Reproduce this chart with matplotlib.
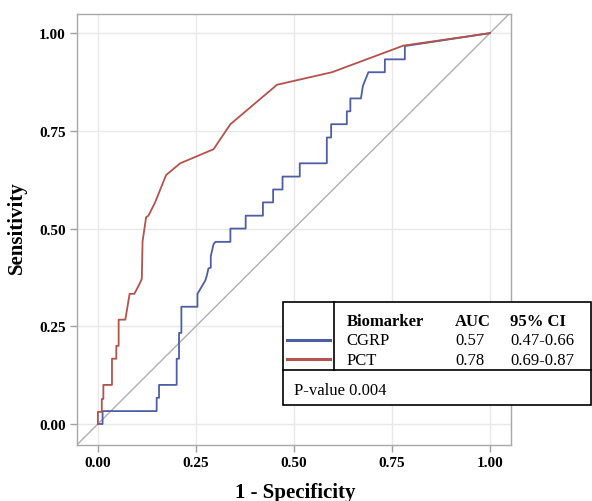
import matplotlib
matplotlib.use("Agg")
import matplotlib.pyplot as plt
from matplotlib.patches import Rectangle
from matplotlib.lines import Line2D

plt.rcParams['font.family'] = ['Liberation Serif', 'DejaVu Serif']

# ROC curve vertices (1 - specificity, sensitivity)
cgrp_fpr = [0.0, 0.012, 0.012, 0.150, 0.150, 0.156, 0.156, 0.201, 0.201, 0.207, 0.207, 0.213, 0.213,
            0.254, 0.254, 0.274, 0.278, 0.282, 0.288, 0.288, 0.295, 0.300, 0.338, 0.338, 0.377, 0.377,
            0.421, 0.421, 0.447, 0.447, 0.471, 0.471, 0.515, 0.515, 0.584, 0.584, 0.595, 0.595,
            0.635, 0.635, 0.644, 0.644, 0.671, 0.676, 0.690, 0.732, 0.732, 0.783, 0.783, 1.0]
cgrp_tpr = [0.0, 0.0, 0.033, 0.033, 0.067, 0.067, 0.100, 0.100, 0.167, 0.167, 0.233, 0.233, 0.300,
            0.300, 0.333, 0.367, 0.380, 0.398, 0.400, 0.429, 0.460, 0.466, 0.466, 0.500, 0.500, 0.533,
            0.533, 0.567, 0.567, 0.600, 0.600, 0.633, 0.633, 0.667, 0.667, 0.733, 0.733, 0.767,
            0.767, 0.800, 0.800, 0.833, 0.833, 0.865, 0.900, 0.900, 0.933, 0.933, 0.967, 1.0]

pct_fpr = [0.0, 0.0, 0.010, 0.010, 0.014, 0.014, 0.036, 0.036, 0.047, 0.047, 0.053, 0.053, 0.070,
           0.081, 0.093, 0.108, 0.112, 0.114, 0.123, 0.129, 0.146, 0.174, 0.210, 0.295, 0.338,
           0.457, 0.597, 0.779, 1.0]
pct_tpr = [0.0, 0.031, 0.031, 0.064, 0.064, 0.100, 0.100, 0.167, 0.167, 0.200, 0.200, 0.267, 0.267,
           0.333, 0.333, 0.362, 0.371, 0.467, 0.529, 0.533, 0.567, 0.637, 0.667, 0.703, 0.767,
           0.868, 0.900, 0.968, 1.0]

ticks = [0.0, 0.25, 0.5, 0.75, 1.0]
tick_labels = ["0.00", "0.25", "0.50", "0.75", "1.00"]

legend_header = ["Biomarker", "AUC", "95% CI"]
legend_names = ["CGRP", "PCT"]
legend_auc = ["0.57", "0.78"]
legend_ci = ["0.47-0.66", "0.69-0.87"]
p_text = "P-value 0.004"

blue = "#4e5ea6"
red = "#b5524b"

W, H = 592, 502
fig = plt.figure(figsize=(W / 100, H / 100), dpi=100)
ax = fig.add_axes([76.7 / W, 1 - 445.7 / H, (510.7 - 76.7) / W, (445.7 - 15) / H])

lim = (-0.054, 1.053)
ax.set_xlim(lim)
ax.set_ylim((-0.053, 1.049))
ax.plot([-0.1, 1.1], [-0.1, 1.1], color="#b0b0b0", lw=1.0, zorder=2)
ax.plot(cgrp_fpr, cgrp_tpr, color=blue, lw=1.3, zorder=3)
ax.plot(pct_fpr, pct_tpr, color=red, lw=1.3, zorder=4)

ax.set_xticks(ticks)
ax.set_yticks(ticks)
ax.set_xticklabels(tick_labels, fontweight="bold", fontsize=11)
ax.set_yticklabels(tick_labels, fontweight="bold", fontsize=11)
ax.grid(True, color="#e8e8e8", lw=1.0)
ax.set_axisbelow(True)
ax.tick_params(axis="both", length=5, width=1, color="#a0a0a0", pad=3)
for s in ax.spines.values():
    s.set_color("#a8a8a8")
    s.set_linewidth(1.0)

fig.text(295 / W, 1 - 493 / H, "1 - Specificity", ha="center", va="center",
         fontsize=15, fontweight="bold")
fig.text(17 / W, 1 - 228 / H, "Sensitivity", ha="center", va="center",
         rotation=90, fontsize=15, fontweight="bold")

def fx(p):
    return p / W

def fy(p):
    return 1 - p / H

# legend table
fig.add_artist(Rectangle((fx(283.3), fy(406)), fx(591) - fx(283.3), fy(303.3) - fy(406),
                         transform=fig.transFigure, facecolor="white", edgecolor="black",
                         lw=1.2, zorder=10))
fig.add_artist(Line2D([fx(334.3), fx(334.3)], [fy(303.3), fy(371)], transform=fig.transFigure,
                      color="black", lw=1.2, zorder=11))
fig.add_artist(Line2D([fx(283.3), fx(591)], [fy(371), fy(371)], transform=fig.transFigure,
                      color="black", lw=1.2, zorder=11))
cols = [346.7, 455, 510]
for x, t in zip(cols, legend_header):
    fig.text(fx(x), fy(322), t, ha="left", va="center", fontsize=12, fontweight="bold", zorder=12)
rows = [341.5, 361]
for y, n, a, c, col in zip(rows, legend_names, legend_auc, legend_ci, [blue, red]):
    fig.add_artist(Line2D([fx(287.3), fx(330)], [fy(y - 1), fy(y - 1)], transform=fig.transFigure,
                          color=col, lw=2.2, zorder=12))
    fig.text(fx(cols[0]), fy(y), n, ha="left", va="center", fontsize=12, zorder=12)
    fig.text(fx(cols[1]), fy(y), a, ha="left", va="center", fontsize=12, zorder=12)
    fig.text(fx(cols[2]), fy(y), c, ha="left", va="center", fontsize=12, zorder=12)
fig.text(fx(294), fy(391), p_text, ha="left", va="center", fontsize=12, zorder=12)

fig.savefig("out.png", dpi=100)
